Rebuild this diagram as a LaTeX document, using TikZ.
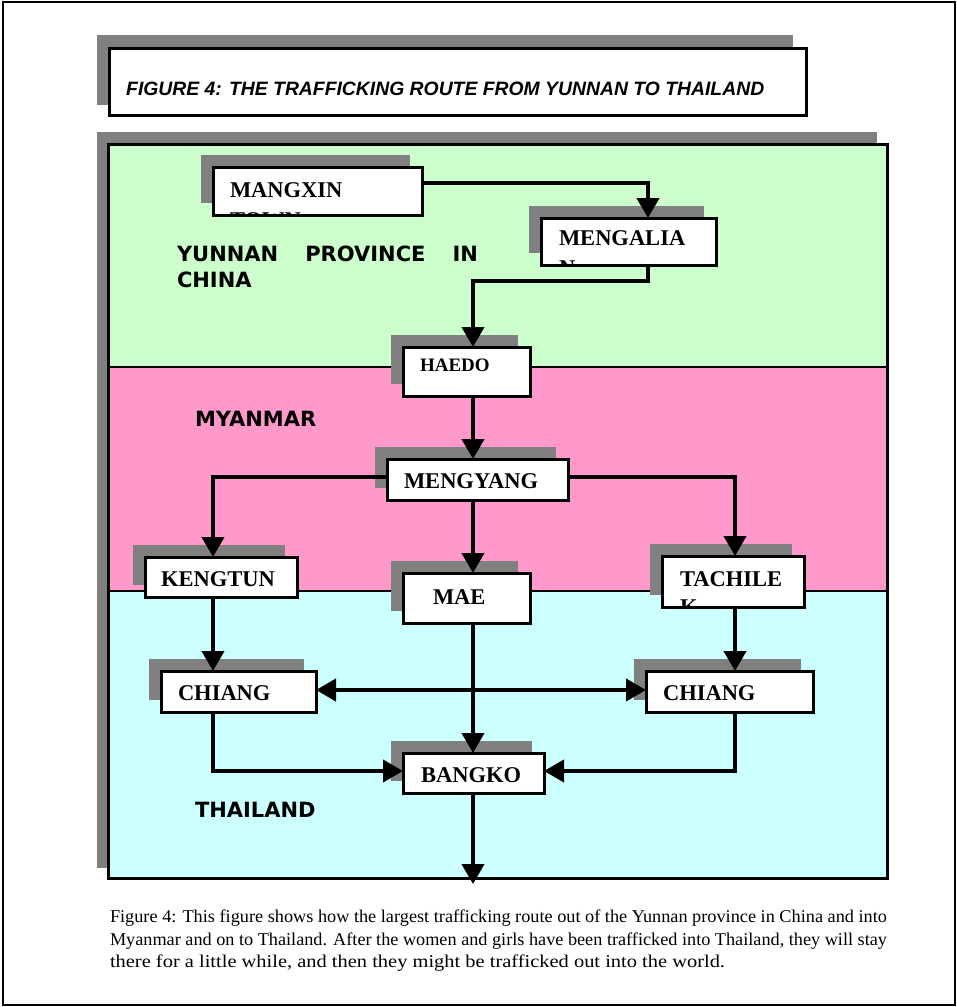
\documentclass[tikz,border=0pt]{standalone}
\usepackage{fontspec}
\setmainfont{Liberation Serif}
\newfontfamily\titlefont{Liberation Sans}
\newfontfamily\regionfont{DejaVu Sans}
\usetikzlibrary{arrows.meta}
\definecolor{shadegray}{HTML}{808080}
\definecolor{bandgreen}{HTML}{CCFFCC}
\definecolor{bandpink}{HTML}{FF99CC}
\definecolor{bandcyan}{HTML}{CCFFFF}
\tikzset{
  shadowfill/.style={fill=shadegray},
  boxfill/.style={fill=white, inner sep=0pt, outer sep=0pt},
  boxline/.style={draw=black, line width=3pt},
  boxtxt/.style={inner sep=0pt, outer sep=0pt, font=\bfseries\fontsize{22.5}{26}\selectfont},
  smalltxt/.style={inner sep=0pt, outer sep=0pt, font=\bfseries\fontsize{19}{22}\selectfont},
  regiontxt/.style={inner sep=0pt, outer sep=0pt, anchor=base west, font=\regionfont\bfseries\fontsize{21}{26}\selectfont},
  captxt/.style={inner sep=0pt, outer sep=0pt, anchor=base west, font=\fontsize{18}{22}\selectfont},
  arr/.style={line width=4pt, -{Triangle[length=20pt,width=22pt]}},
  dblarr/.style={line width=4pt, {Triangle[length=20pt,width=22pt]}-{Triangle[length=20pt,width=22pt]}},
}
% #1 name, #2 x1, #3 y1, #4 x2, #5 y2, #6 text x, #7 baseline y, #8 style, #9 text
\newcommand\routebox[9]{%
  \fill[shadowfill] ({#2-12},{#3-12}) rectangle ({#4-12},{#5-12});
  \node[boxfill, anchor=north west, minimum width={#4-#2}, minimum height={#5-#3}] (#1) at (#2,#3) {};
  \begin{scope}
    \clip (#2,#3) rectangle (#4,#5);
    \node[#8, anchor=base west] (#1-a) at (#6,#7) {#9};
  \end{scope}
}
\newcommand\boxoutline[1]{\draw[boxline] (#1.north west) rectangle (#1.south east);}
\begin{document}
\begin{tikzpicture}[x=1pt,y=-1pt]
\useasboundingbox (0,0) rectangle (957,1007);
\fill[white] (0,0) rectangle (957,1007);
\draw[line width=1.2pt] (3,2) rectangle (955,1005);
% title
\fill[shadowfill] (97,35) rectangle (793,105);
\node[fill=white, draw=black, line width=3pt, anchor=north west, minimum width=697pt, minimum height=67pt, inner sep=0pt] (titlebox) at (108,47) {};
\node[inner sep=0pt, anchor=base west, font=\titlefont\bfseries\itshape\fontsize{18.5}{20}\selectfont] (title) at (126,95) {\resizebox{638pt}{!}{FIGURE 4: THE TRAFFICKING ROUTE FROM YUNNAN TO THAILAND}};
% main frame
\fill[shadowfill] (97,132) rectangle (877,868);
\fill[bandgreen] (108,144) rectangle (887,367);
\fill[bandpink] (108,367) rectangle (887,591);
\fill[bandcyan] (108,591) rectangle (887,878);
\draw[line width=2.5pt] (108,367) -- (887,367);
\draw[line width=2.5pt] (108,591) -- (887,591);
\draw[line width=3pt] (108,144) rectangle (887,878);
% region labels
\node[regiontxt] (yunnan) at (177,261) {\makebox[301pt][s]{YUNNAN PROVINCE IN}};
\node[regiontxt] (china) at (177,287) {CHINA};
\node[regiontxt] (myanmar) at (195,426) {MYANMAR};
\node[regiontxt] (thailand) at (195,817) {THAILAND};
% boxes
\routebox{mangxin}{213}{167}{422}{215}{230}{197}{boxtxt}{MANGXIN}
\begin{scope}\clip (213,167) rectangle (422,215);
\node[boxtxt, anchor=base west] (mangxin-b) at (230,227) {TOWN};\end{scope}
\routebox{mengalia}{541}{218}{716}{265}{559}{245}{boxtxt}{MENGALIA}
\begin{scope}\clip (541,218) rectangle (716,265);
\node[boxtxt, anchor=base west] (mengalia-b) at (559,275) {N};\end{scope}
\routebox{haedo}{403}{347}{530}{396}{420}{371}{smalltxt}{HAEDO}
\routebox{mengyang}{387}{459}{568}{500}{404}{488}{boxtxt}{MENGYANG}
\routebox{kengtun}{145}{557}{297}{597}{161}{586}{boxtxt}{KENGTUN}
\routebox{mae}{403}{573}{530}{623}{433}{604}{boxtxt}{MAE}
\routebox{tachile}{662}{556}{804}{607}{680}{586}{boxtxt}{TACHILE}
\begin{scope}\clip (662,556) rectangle (804,607);
\node[boxtxt, anchor=base west] (tachile-b) at (680,614) {K};\end{scope}
\routebox{chiangl}{161}{671}{316}{712}{178}{700}{boxtxt}{CHIANG}
\routebox{chiangr}{646}{671}{813}{712}{663}{700}{boxtxt}{CHIANG}
\routebox{bangko}{403}{753}{544}{793}{421}{782}{boxtxt}{BANGKO}
\foreach \b in {mangxin,mengalia,haedo,mengyang,kengtun,mae,tachile,chiangl,chiangr,bangko}{\boxoutline{\b}}
% guide coordinates
\coordinate (trunk) at (473,0);
\coordinate (lcol) at (213,0);
\coordinate (rcol) at (735,0);
\coordinate (tcol) at (648,0);
\coordinate (row1) at (0,183);
\coordinate (row2) at (0,281);
\coordinate (row3) at (0,477);
\coordinate (row4) at (0,690);
\coordinate (row5) at (0,771);
\coordinate (out) at (473,884);
% connectors
\draw[arr] (mangxin.east |- row1) -| (tcol |- mengalia.north);
\draw[arr] (tcol |- mengalia.south) |- (trunk |- row2) -- (trunk |- haedo.north);
\draw[arr] (trunk |- haedo.south) -- (trunk |- mengyang.north);
\draw[arr] (mengyang.west |- row3) -| (lcol |- kengtun.north);
\draw[arr] (mengyang.east |- row3) -| (rcol |- tachile.north);
\draw[arr] (trunk |- mengyang.south) -- (trunk |- mae.north);
\draw[arr] (lcol |- kengtun.south) -- (lcol |- chiangl.north);
\draw[arr] (rcol |- tachile.south) -- (rcol |- chiangr.north);
\draw[dblarr] (chiangl.east |- row4) -- (chiangr.west |- row4);
\draw[arr] (trunk |- mae.south) -- (trunk |- bangko.north);
\draw[arr] (lcol |- chiangl.south) |- (bangko.west |- row5);
\draw[arr] (rcol |- chiangr.south) |- (bangko.east |- row5);
\draw[arr] (trunk |- bangko.south) -- (out);
% caption
\node[captxt] (cap1) at (110,922) {\resizebox{777pt}{\height}{Figure 4: This figure shows how the largest trafficking route out of the Yunnan province in China and into}};
\node[captxt] (cap2) at (110,945) {\resizebox{777pt}{\height}{Myanmar and on to Thailand. After the women and girls have been trafficked into Thailand, they will stay}};
\node[captxt] (cap3) at (110,967) {\resizebox{615pt}{\height}{there for a little while, and then they might be trafficked out into the world.}};
\end{tikzpicture}
\end{document}
